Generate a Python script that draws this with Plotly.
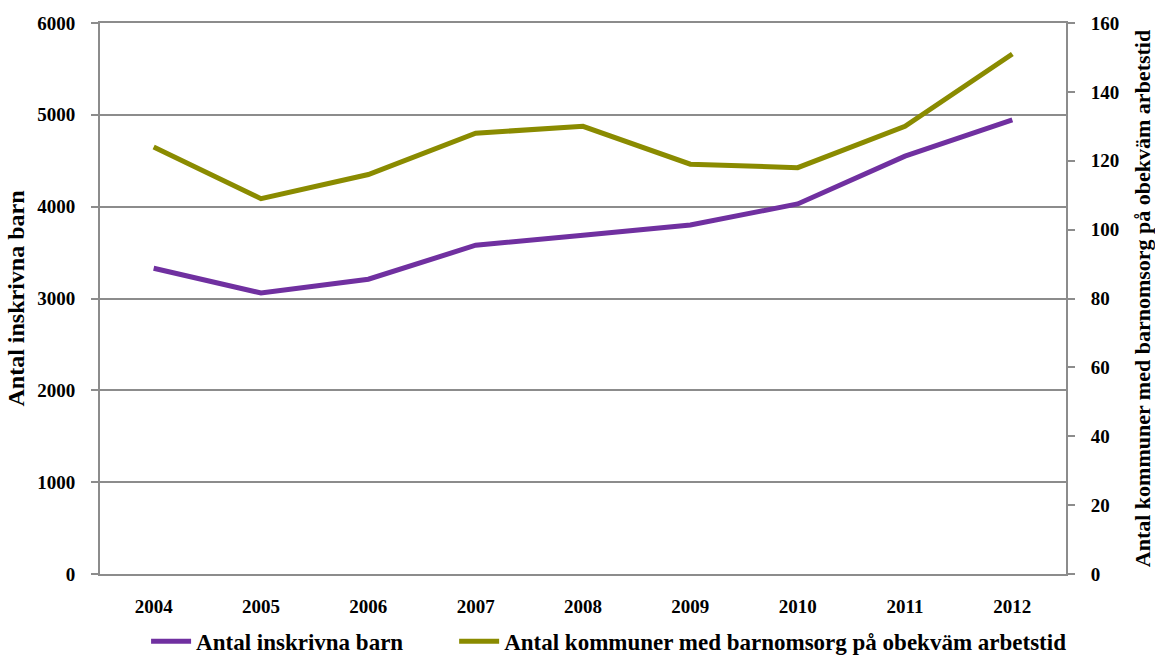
import plotly.graph_objects as go

years = ["2004", "2005", "2006", "2007", "2008", "2009", "2010", "2011", "2012"]
inskrivna_barn = [3330, 3060, 3210, 3580, 3690, 3800, 4030, 4550, 4945]
kommuner_obekvam = [124, 109, 116, 128, 130, 119, 118, 130, 151]

font_family = "Liberation Serif"
axis_grey = "#8c8c8c"

fig = go.Figure()
fig.add_trace(go.Scatter(
    x=years, y=inskrivna_barn, mode="lines",
    name="<b>Antal inskrivna barn</b>&nbsp;&nbsp;&nbsp;&nbsp;&nbsp;&nbsp;&nbsp;&nbsp;",
    line=dict(color="#7030A0", width=5), yaxis="y",
))
fig.add_trace(go.Scatter(
    x=years, y=kommuner_obekvam, mode="lines",
    name="<b>Antal kommuner med barnomsorg på obekväm arbetstid</b>",
    line=dict(color="#8A8B00", width=5), yaxis="y2",
))

fig.update_layout(
    width=1155, height=659,
    margin=dict(l=100, r=89, t=23, b=85, autoexpand=False),
    paper_bgcolor="white", plot_bgcolor="white",
    font=dict(family=font_family, size=19, color="black"),
    showlegend=True,
    legend=dict(orientation="h", x=0.527, xanchor="center", yref="container",
                y=0.027, yanchor="middle", font=dict(size=23), itemwidth=40,
                tracegroupgap=0, bgcolor="rgba(0,0,0,0)"),
    xaxis=dict(
        type="category", range=[-0.5, 8.5], showline=True, linecolor=axis_grey,
        linewidth=2, mirror=True, ticks="", showgrid=False,
        tickfont=dict(size=19), ticklabelstandoff=14,
    ),
    yaxis=dict(
        range=[0, 6000], dtick=1000, showline=True, linecolor=axis_grey, linewidth=2,
        ticks="outside", ticklen=7, tickcolor=axis_grey, tickwidth=2,
        showgrid=True, gridcolor=axis_grey, gridwidth=1.5, zeroline=False,
        tickfont=dict(size=19), tickformat="d", ticklabelstandoff=12,
        title=dict(text="<b>Antal inskrivna barn</b>", font=dict(size=24), standoff=6),
    ),
    yaxis2=dict(
        range=[0, 160], dtick=20, overlaying="y", side="right",
        showline=True, linecolor=axis_grey, linewidth=2,
        ticks="outside", ticklen=7, tickcolor=axis_grey, tickwidth=2,
        showgrid=False, zeroline=False, tickfont=dict(size=19), ticklabelstandoff=12,
        title=dict(text="<b>Antal kommuner med barnomsorg på obekväm arbetstid</b>",
                   font=dict(size=22), standoff=16),
    ),
)
fig.update_yaxes(tickprefix="<b>", ticksuffix="</b>")
fig.update_xaxes(tickprefix="<b>", ticksuffix="</b>")

fig.write_html("out.html")
